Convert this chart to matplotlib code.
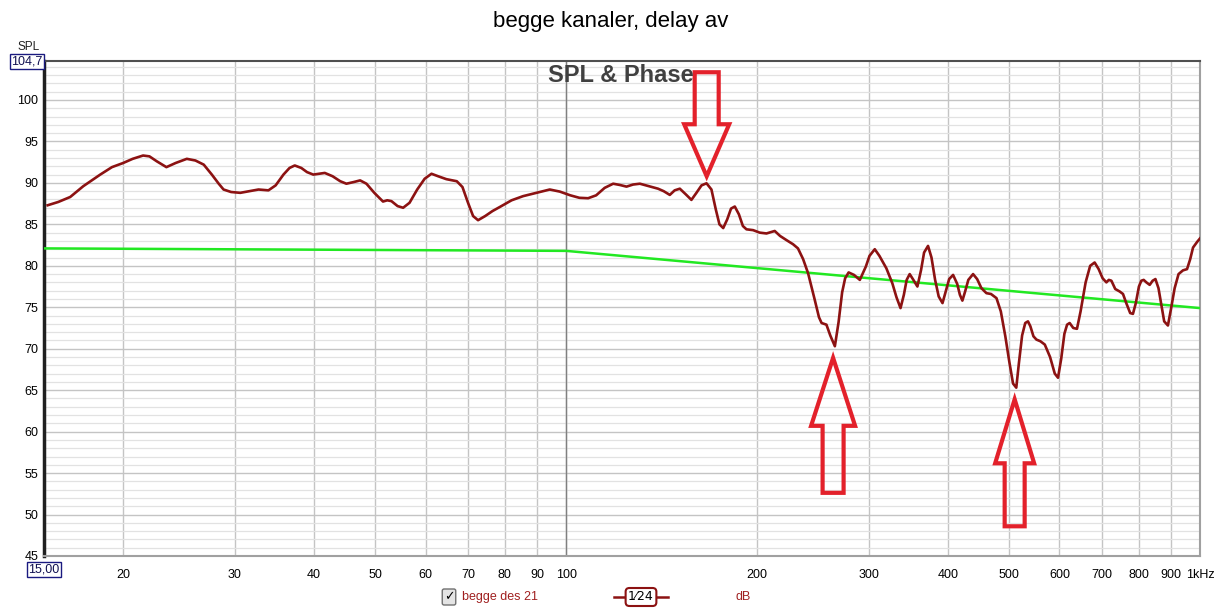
import matplotlib
matplotlib.use("Agg")
import matplotlib.pyplot as plt
import numpy as np
from matplotlib.ticker import MultipleLocator, FixedLocator, NullLocator
from matplotlib.patches import Polygon
from matplotlib.lines import Line2D
from matplotlib.transforms import ScaledTranslation

plt.rcParams['font.family'] = ['Liberation Sans', 'DejaVu Sans']

freq = [15.2, 15.8, 16.5, 17.3, 18.4, 19.2, 20.0, 20.7, 21.5, 22.0, 22.6, 23.4,
        24.2, 25.2, 26.0, 26.8, 27.6, 28.3, 28.8, 29.6, 30.6, 31.6, 32.7, 33.9,
        34.8, 35.8, 36.6, 37.3, 38.2, 39.0, 39.9, 40.8, 41.6, 42.8, 44.0, 45.0,
        46.2, 47.3, 48.4, 49.8, 51.4, 52.2, 53.0, 54.2, 55.3, 56.6, 58.2, 59.8,
        61.3, 62.8, 64.7, 67.2, 68.6, 70.0, 71.3, 72.6, 74.5, 76.5, 78.6, 82.0,
        85.5, 89.8, 94.2, 97.7, 101.5, 104.9, 108.3, 111.5, 115.0, 118.6, 121.5,
        124.5, 127.5, 130.7, 135.0, 139.6, 142.5, 145.7, 148.3, 151.1, 154.5,
        157.6, 160.5, 163.5, 166.5, 169.5, 172.2, 174.5, 176.9, 179.5, 182.0,
        184.5, 187.3, 190.0, 192.5, 197.2, 202.0, 207.0, 213.3, 217.5, 222.6,
        228.0, 232.1, 236.5, 240.8, 246.5, 250.5, 252.9, 257.4, 261.0, 265.4,
        269.0, 272.5, 275.5, 279.0, 284.5, 290.6, 297.0, 301.0, 306.8, 312.0,
        320.0, 327.0, 332.0, 336.9, 341.0, 344.5, 348.3, 353.0, 358.2, 363.0,
        367.0, 372.3, 377.0, 382.0, 387.0, 392.4, 397.0, 402.0, 407.8, 414.0,
        418.0, 421.8, 426.0, 431.0, 438.5, 445.0, 452.0, 460.3, 468.0, 477.4,
        485.0, 493.0, 500.0, 507.0, 513.0, 518.0, 524.0, 530.0, 535.3, 540.0,
        546.0, 552.0, 560.0, 569.0, 580.0, 590.0, 597.0, 604.0, 611.0, 617.0,
        622.8, 631.0, 639.6, 648.0, 660.0, 671.0, 682.0, 692.0, 702.0, 711.7,
        718.0, 724.8, 735.0, 747.0, 756.0, 765.0, 776.0, 783.8, 792.0, 801.0,
        808.0, 815.0, 823.0, 833.0, 842.0, 850.5, 860.0, 868.0, 878.0, 890.0,
        900.0, 912.0, 925.0, 940.0, 954.0, 965.0, 975.0, 990.0, 1000.0]
spl = [87.3, 87.7, 88.3, 89.6, 91.0, 91.9, 92.4, 92.9, 93.3, 93.2, 92.6, 91.9,
       92.4, 92.9, 92.7, 92.2, 91.0, 89.9, 89.2, 88.9, 88.8, 89.0, 89.2, 89.1,
       89.7, 91.0, 91.8, 92.1, 91.8, 91.3, 91.0, 91.1, 91.2, 90.8, 90.2, 89.9,
       90.1, 90.3, 89.9, 88.8, 87.75, 87.9, 87.8, 87.2, 87.0, 87.6, 89.2, 90.5,
       91.1, 90.8, 90.45, 90.2, 89.5, 87.6, 86.0, 85.5, 86.0, 86.6, 87.1, 87.9,
       88.4, 88.8, 89.2, 88.95, 88.5, 88.2, 88.15, 88.5, 89.4, 89.9, 89.75,
       89.55, 89.8, 89.9, 89.6, 89.3, 89.0, 88.55, 89.1, 89.3, 88.6,
       87.95, 88.8, 89.7, 89.95, 89.2, 86.8, 85.0, 84.55, 85.6, 86.9,
       87.15, 86.2, 84.8, 84.4, 84.3, 84.0, 83.9, 84.2, 83.6, 83.1,
       82.6, 82.1, 80.8, 79.1, 76.0, 73.8, 73.1, 72.9, 71.6, 70.3,
       73.2, 76.8, 78.5, 79.2, 78.9, 78.3, 79.9, 81.2, 82.0, 81.2,
       79.7, 77.9, 76.2, 74.9, 76.5, 78.3, 79.0, 78.3, 77.5, 79.5,
       81.6, 82.4, 81.0, 78.3, 76.3, 75.5, 76.9, 78.4, 78.9, 77.8,
       76.5, 75.8, 76.9, 78.3, 79.0, 78.4, 77.3, 76.7, 76.6, 76.1,
       74.5, 71.5, 68.5, 65.8, 65.3, 68.3, 71.6, 73.1, 73.3, 72.7,
       71.5, 71.1, 70.9, 70.5, 69.0, 67.0, 66.5, 68.8, 71.8, 72.9,
       73.1, 72.5, 72.4, 74.5, 78.0, 80.0, 80.4, 79.6, 78.5, 78.0,
       78.3, 78.2, 77.2, 76.9, 76.6, 75.5, 74.3, 74.2, 75.5, 77.5,
       78.2, 78.3, 78.0, 77.7, 78.2, 78.4, 77.3, 75.5, 73.3, 72.8,
       74.8, 77.3, 79.0, 79.45, 79.6, 80.8, 82.2, 82.9, 83.3]

# target curve
target_freq = [15, 100, 1000]
target_spl = [82.1, 81.8, 74.9]

xticks = [20, 30, 40, 50, 60, 70, 80, 90, 100, 200, 300, 400, 500, 600, 700, 800, 900, 1000]
xlabels = ['20', '30', '40', '50', '60', '70', '80', '90', '100', '200', '300', '400',
           '500', '600', '700', '800', '900', '1kHz']
yticks = [45, 50, 55, 60, 65, 70, 75, 80, 85, 90, 95, 100]

# arrows: tip (Hz, dB), direction, length, head length, head half width, shaft half width (px)
arrows = [
    (166.6, 90.8, 1, 104, 52, 22.5, 12),
    (263.7, 68.9, -1, 135, 68, 22, 10.5),
    (510.0, 63.9, -1, 127, 64, 19.5, 10),
]

W, H = 1222, 611
fig = plt.figure(figsize=(W / 100, H / 100), dpi=100)
ax = fig.add_axes([44 / W, 55 / H, (1200 - 44) / W, (556 - 61) / H])

ax.set_xscale('log')
ax.set_xlim(15, 1000)
ax.set_ylim(45, 104.7)

ax.xaxis.set_major_locator(FixedLocator(xticks))
ax.xaxis.set_minor_locator(NullLocator())
ax.set_xticklabels(xlabels)
ax.yaxis.set_major_locator(FixedLocator(yticks))
ax.yaxis.set_minor_locator(MultipleLocator(1))
ax.tick_params(which='both', length=0)
ax.tick_params(axis='x', pad=9, labelsize=9)
ax.tick_params(axis='y', pad=4, labelsize=9)

ax.grid(which='minor', axis='y', color='#e2e2e2', lw=0.9)
ax.grid(which='major', axis='y', color='#c4c4c4', lw=1.0)
ax.grid(which='major', axis='x', color='#c4c4c4', lw=1.0)
ax.axvline(100, color='#808080', lw=1.0, zorder=1.5)
ax.set_axisbelow(True)

for s in ['right', 'bottom']:
    ax.spines[s].set_color('#a0a0a0')
    ax.spines[s].set_linewidth(1.5)
ax.spines['top'].set_color('#505050')
ax.spines['top'].set_linewidth(1.5)
ax.spines['left'].set_color('#202020')
ax.spines['left'].set_linewidth(2.5)

ax.plot(target_freq, target_spl, color='#22e822', lw=1.8, zorder=3)
ax.plot(freq, spl, color='#8c1212', lw=1.9, zorder=4, solid_joinstyle='round')

for fx, fy, d, L, hl, hw, sw in arrows:
    verts = np.array([(0, 0), (-hw, hl), (-sw, hl), (-sw, L), (sw, L), (sw, hl), (hw, hl)], float)
    verts[:, 1] *= d
    trans = fig.dpi_scale_trans + ScaledTranslation(fx, fy, ax.transData)
    ax.add_patch(Polygon(verts / 100.0, closed=True, facecolor='none', edgecolor='#e3212b',
                         lw=3.0, joinstyle='miter', transform=trans, zorder=6, clip_on=False))

fig.text(611 / W, 1 - 22 / H, 'begge kanaler, delay av', ha='center', va='center', fontsize=16)
fig.text(621 / W, 1 - 76 / H, 'SPL & Phase', ha='center', va='center', fontsize=17,
         fontweight='bold', color='#404040')
fig.text(29 / W, 1 - 47 / H, 'SPL', ha='center', va='center', fontsize=8.5, color='#202020')
fig.text(27 / W, 1 - 61 / H, '104,7', ha='center', va='center', fontsize=9, color='#101050',
         bbox=dict(boxstyle='square,pad=0.12', fc='white', ec='#1a1a80', lw=1))
fig.text(44 / W, 1 - 569 / H, '15,00', ha='center', va='center', fontsize=9, color='#101050',
         bbox=dict(boxstyle='square,pad=0.12', fc='white', ec='#1a1a80', lw=1))

# legend row
fig.text(449 / W, 1 - 597 / H, '\u2713', ha='center', va='center', fontsize=9, color='black',
         family=['DejaVu Sans'],
         bbox=dict(boxstyle='round,pad=0.12,rounding_size=0.15', fc='#e4e4e4', ec='#707070', lw=1))
fig.text(462 / W, 1 - 597 / H, 'begge des 21', ha='left', va='center', fontsize=9, color='#a02020')
fig.add_artist(Line2D([614 / W, 668 / W], [1 - 597 / H, 1 - 597 / H], color='#8c1212', lw=1.8))
fig.text(641 / W, 1 - 597 / H, '1\u204424', ha='center', va='center', fontsize=9, color='black',
         family=['DejaVu Sans'],
         bbox=dict(boxstyle='round,pad=0.2,rounding_size=0.3', fc='white', ec='#8c1212', lw=1.5))
fig.text(743 / W, 1 - 597 / H, 'dB', ha='center', va='center', fontsize=9, color='#a02020')

fig.savefig('out.png', dpi=100)
